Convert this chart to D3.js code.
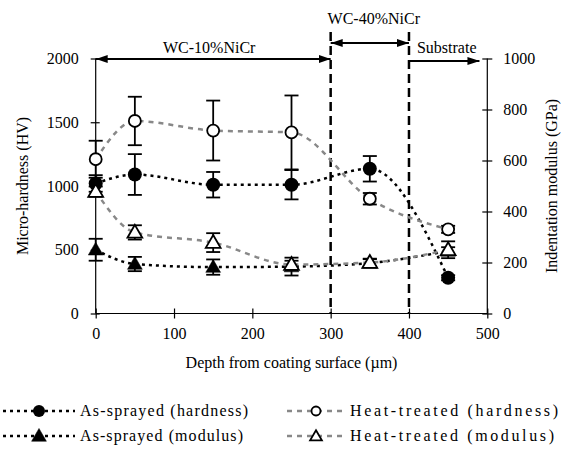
<!DOCTYPE html>
<html>
<head>
<meta charset="utf-8">
<script src="https://cdn.jsdelivr.net/npm/d3@7"></script>
<style>
  body { margin: 0; background: #fff; }
  svg text { font-family: "Liberation Serif", "DejaVu Serif", serif !important; fill: #000; }
</style>
</head>
<body>
<svg id="chart" width="574" height="451" font-family="Liberation Serif, serif"></svg>
<script>
  // depth positions (µm)
  const depth = [0, 50, 150, 250, 350, 450];

  // hardness (HV), left axis
  const hardAs      = [1020, 1090, 1010, 1010, 1135, 280];
  const hardAsErr   = [65, 160, 100, 115, 100, 20];
  const hardHeat    = [1210, 1510, 1435, 1420, 900, 660];
  const hardHeatErr = [145, 190, 235, 290, 45, 28];

  // indentation modulus (GPa), right axis
  const modAs       = [250, 194, 182, 184, 198, 245];
  const modAsErr    = [43, 28, 30, 35, 15, 15];
  const modHeat     = [478, 318, 278, 192, 200, 250];
  const modHeatErr  = [20, 28, 37, 15, 15, 33];

  const xTicks = [0, 100, 200, 300, 400, 500];
  const hardTicks = [0, 500, 1000, 1500, 2000];
  const modTicks = [0, 200, 400, 600, 800, 1000];

  // coating zones shown above the plot
  const zones = [
    { label: "WC-10%NiCr", from: 0, to: 300 },
    { label: "WC-40%NiCr", from: 300, to: 400 },
    { label: "Substrate", from: 400, to: 490 }
  ];

  const FONT = "'Liberation Serif', 'DejaVu Serif', serif";
  const svg = d3.select("#chart");

  const x = d3.scaleLinear().domain([0, 500]).range([95.7, 487.3]);
  const yH = d3.scaleLinear().domain([0, 2000]).range([313.5, 58.5]);
  const yM = d3.scaleLinear().domain([0, 1000]).range([313.5, 58.5]);

  // arrow head markers
  const defs = svg.append("defs");
  function arrowMarker(id, orient) {
    defs.append("marker")
      .attr("id", id)
      .attr("viewBox", "0 0 12 8")
      .attr("refX", 12).attr("refY", 4)
      .attr("markerWidth", 12).attr("markerHeight", 8)
      .attr("markerUnits", "userSpaceOnUse")
      .attr("orient", orient)
      .append("path").attr("d", "M0,0 L12,4 L0,8 Z").attr("fill", "#000");
  }
  arrowMarker("head", "auto");
  arrowMarker("headStart", "auto-start-reverse");

  // axes (Excel style crossing ticks)
  function crossTicks(g, a, b, horizontal) {
    g.attr("font-family", null);
    g.selectAll(".tick line")
      .attr(horizontal ? "y1" : "x1", a)
      .attr(horizontal ? "y2" : "x2", b);
  }

  const gx = svg.append("g")
    .attr("transform", `translate(0,${yH(0)})`)
    .call(d3.axisBottom(x).tickValues(xTicks).tickSize(5).tickPadding(9).tickFormat(d3.format("d")));
  crossTicks(gx, -5, 5, true);

  const gl = svg.append("g")
    .attr("transform", `translate(${x(0)},0)`)
    .call(d3.axisLeft(yH).tickValues(hardTicks).tickSize(5).tickPadding(12).tickFormat(d3.format("d")));
  crossTicks(gl, -5, 4, false);

  const gr = svg.append("g")
    .attr("transform", `translate(${x(500)},0)`)
    .call(d3.axisRight(yM).tickValues(modTicks).tickSize(5).tickPadding(11).tickFormat(d3.format("d")));
  crossTicks(gr, -5, 5, false);

  // plain domain lines without outer ticks
  gx.select(".domain").attr("d", `M${x(0)},0H${x(500)}`);
  gl.select(".domain").attr("d", `M0,${yH(0)}V${yH(2000)}`);
  gr.select(".domain").attr("d", `M0,${yM(0)}V${yM(1000)}`);
  svg.selectAll(".domain").attr("stroke", "#000").attr("stroke-width", 1.2);
  svg.selectAll(".tick line").attr("stroke", "#000").attr("stroke-width", 1.2);
  svg.selectAll(".tick text").style("font-size", "16px").style("font-family", FONT).attr("fill", "#000");

  // axis titles
  svg.append("text")
    .attr("x", (x(0) + x(500)) / 2).attr("y", 368)
    .attr("text-anchor", "middle").style("font-size", "16px").style("font-family", FONT)
    .text("Depth from coating surface (µm)");

  svg.append("text")
    .attr("transform", `translate(28,${(yH(0) + yH(2000)) / 2}) rotate(-90)`)
    .attr("text-anchor", "middle").style("font-size", "16px").style("font-family", FONT)
    .text("Micro-hardness (HV)");

  svg.append("text")
    .attr("transform", `translate(557,${(yH(0) + yH(2000)) / 2}) rotate(-90)`)
    .attr("text-anchor", "middle").style("font-size", "16px").style("font-family", FONT)
    .text("Indentation modulus (GPa)");

  // zone boundaries
  [300, 400].forEach(v => {
    svg.append("line")
      .attr("x1", x(v)).attr("x2", x(v))
      .attr("y1", 32).attr("y2", yH(0))
      .attr("stroke", "#000").attr("stroke-width", 2.5)
      .attr("stroke-dasharray", "9,5");
  });

  // zone arrows and labels
  const zoneY = [59, 43, 61];
  const labelPos = [
    { x: (x(0) + x(300)) / 2 - 4, y: 53, anchor: "middle" },
    { x: (x(300) + x(400)) / 2 + 4, y: 24, anchor: "middle" },
    { x: x(400) + 8, y: 53, anchor: "start" }
  ];
  zones.forEach((z, i) => {
    svg.append("line")
      .attr("x1", x(z.from)).attr("x2", x(z.to))
      .attr("y1", zoneY[i]).attr("y2", zoneY[i])
      .attr("stroke", "#000").attr("stroke-width", 2)
      .attr("marker-end", "url(#head)")
      .attr("marker-start", i < 2 ? "url(#headStart)" : null);
    svg.append("text")
      .attr("x", labelPos[i].x).attr("y", labelPos[i].y)
      .attr("text-anchor", labelPos[i].anchor)
      .style("font-size", "16px").style("font-family", FONT)
      .text(z.label);
  });

  // series
  const series = [
    { name: "As-sprayed (hardness)", vals: hardAs, err: hardAsErr, y: yH, color: "#000", dash: "3,4", marker: "circle", fill: "#000" },
    { name: "Heat-treated (hardness)", vals: hardHeat, err: hardHeatErr, y: yH, color: "#888", dash: "5,5", marker: "circle", fill: "#fff" },
    { name: "As-sprayed (modulus)", vals: modAs, err: modAsErr, y: yM, color: "#000", dash: "3,4", marker: "triangle", fill: "#000" },
    { name: "Heat-treated (modulus)", vals: modHeat, err: modHeatErr, y: yM, color: "#888", dash: "5,5", marker: "triangle", fill: "#fff" }
  ];

  const line = d3.line().curve(d3.curveMonotoneX);
  const triSym = d3.symbol().type(d3.symbolTriangle).size(95);

  function drawMarker(g, s, px, py) {
    if (s.marker === "circle") {
      g.append("circle").attr("cx", px).attr("cy", py).attr("r", s.fill === "#000" ? 7 : 6)
        .attr("fill", s.fill).attr("stroke", "#000").attr("stroke-width", s.fill === "#000" ? 0 : 1.8);
    } else {
      g.append("path").attr("d", triSym)
        .attr("transform", `translate(${px},${py + 1})`)
        .attr("fill", s.fill).attr("stroke", "#000").attr("stroke-width", s.fill === "#000" ? 0.5 : 1.8);
    }
  }

  series.forEach(s => {
    svg.append("path")
      .attr("d", line(depth.map((d, i) => [x(d), s.y(s.vals[i])])))
      .attr("fill", "none").attr("stroke", s.color)
      .attr("stroke-width", 2.5).attr("stroke-dasharray", s.dash);
  });

  series.forEach(s => {
    const g = svg.append("g");
    depth.forEach((d, i) => {
      const px = x(d);
      const top = s.y(s.vals[i] + s.err[i]);
      const bot = s.y(s.vals[i] - s.err[i]);
      g.append("line").attr("x1", px).attr("x2", px).attr("y1", top).attr("y2", bot)
        .attr("stroke", "#000").attr("stroke-width", 1.8);
      [top, bot].forEach(yy => {
        g.append("line").attr("x1", px - 7).attr("x2", px + 7).attr("y1", yy).attr("y2", yy)
          .attr("stroke", "#000").attr("stroke-width", 1.8);
      });
    });
  });

  series.forEach(s => {
    const g = svg.append("g");
    depth.forEach((d, i) => drawMarker(g, s, x(d), s.y(s.vals[i])));
  });

  // legend (two columns, Excel-like stretched spacing)
  const legendPos = [
    { x: 3, y: 411, len: 72, tx: 80, tw: 168 },
    { x: 287, y: 411, len: 58, tx: 350, tw: 208 },
    { x: 3, y: 436, len: 72, tx: 80, tw: 163 },
    { x: 287, y: 436, len: 58, tx: 350, tw: 204 }
  ];
  series.forEach((s, i) => {
    const p = legendPos[i];
    const g = svg.append("g").attr("transform", `translate(0,${p.y})`);
    const mx = p.x + p.len / 2;
    g.append("line").attr("x1", p.x).attr("x2", p.x + p.len).attr("y1", 0).attr("y2", 0)
      .attr("stroke", s.color).attr("stroke-width", 2.5).attr("stroke-dasharray", s.dash);
    if (s.marker === "circle") {
      g.append("circle").attr("cx", mx).attr("cy", 0).attr("r", s.fill === "#000" ? 6 : 4.5)
        .attr("fill", s.fill).attr("stroke", "#000").attr("stroke-width", s.fill === "#000" ? 0 : 1.8);
    } else {
      g.append("path").attr("d", d3.symbol().type(d3.symbolTriangle).size(s.fill === "#000" ? 95 : 60))
        .attr("transform", `translate(${mx},1)`)
        .attr("fill", s.fill).attr("stroke", "#000").attr("stroke-width", s.fill === "#000" ? 0.5 : 1.8);
    }
    g.append("text").attr("x", p.tx).attr("y", 5)
      .attr("textLength", p.tw).attr("lengthAdjust", "spacing")
      .style("font-size", "16px").style("font-family", FONT)
      .text(s.name);
  });
</script>
</body>
</html>
